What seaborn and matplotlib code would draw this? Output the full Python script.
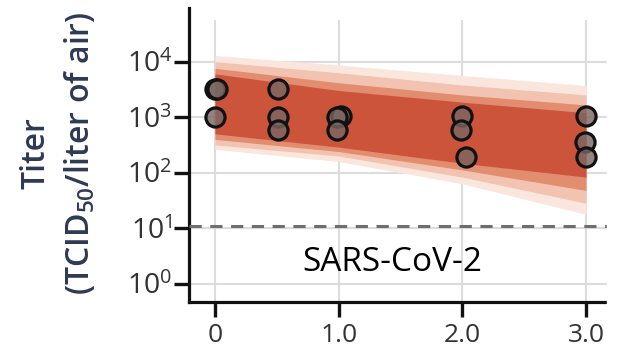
import numpy as np
import pandas as pd
import matplotlib
matplotlib.use("Agg")
import matplotlib.pyplot as plt
from matplotlib.patches import Rectangle
import seaborn as sns

# measured titers (TCID50 / liter of air) vs time (h)
hours = [0.0, 0.02, 0.0, 0.51, 0.51, 0.51, 1.02, 0.99, 0.99, 2.0, 1.99, 2.03, 3.0, 2.99, 3.0]
titer = [3200, 3200, 1000, 3200, 1000, 575, 1050, 1000, 575, 1050, 575, 190, 1050, 350, 190]

# posterior band envelopes read at t = 0, 1, 2, 3 (log10 titer), outer to inner
band_t = [0, 1, 2, 3]
band1_hi = [4.11, 3.94, 3.75, 3.57]
band1_lo = [2.42, 2.20, 1.80, 1.25]
band2_hi = [4.00, 3.80, 3.58, 3.40]
band2_lo = [2.50, 2.30, 1.92, 1.45]
band3_hi = [3.88, 3.62, 3.40, 3.22]
band3_lo = [2.60, 2.38, 2.05, 1.68]
core_hi = [3.78, 3.48, 3.27, 3.08]
core_lo = [2.70, 2.46, 2.17, 1.92]

detect_limit = 10 ** 1.04
xticks = [0, 1, 2, 3]
xticklabels = ["0", "1.0", "2.0", "3.0"]
yticks = [1, 10, 100, 1000, 10000]
yticklabels = [r"$10^{0}$", r"$10^{1}$", r"$10^{2}$", r"$10^{3}$", r"$10^{4}$"]

sns.set_style("white")
plt.rcParams["font.family"] = ["Open Sans", "DejaVu Sans"]
plt.rcParams["mathtext.fontset"] = "custom"
plt.rcParams["mathtext.rm"] = "Open Sans"
plt.rcParams["mathtext.it"] = "Open Sans"
plt.rcParams["mathtext.bf"] = "Open Sans:bold"
plt.rcParams["mathtext.default"] = "regular"

fig = plt.figure(figsize=(6.19, 3.55), dpi=100)
ax = fig.add_axes([189 / 619, 1 - 302 / 355, (607 - 189) / 619, (302 - 20) / 355])

ax.set_yscale("log")
ax.set_xlim(-0.21, 3.17)
ax.set_ylim(10 ** -0.33, 10 ** 4.75)

ax.grid(True, color="#dcdcdc", lw=1.5, zorder=0)
ax.set_axisbelow(True)

bands = [(band1_hi, band1_lo, "#fae6dc"), (band2_hi, band2_lo, "#f2c3b0"),
         (band3_hi, band3_lo, "#e28c70"), (core_hi, core_lo, "#cc543a")]
for hi, lo, col in bands:
    ax.fill_between(band_t, 10 ** np.array(lo), 10 ** np.array(hi), color=col, lw=0, zorder=2)

ax.axhline(detect_limit, color="#6e6e6e", lw=2.2, ls=(0, (4, 2.8)), zorder=3)

df = pd.DataFrame({"hours": hours, "titer": titer})
sns.scatterplot(data=df, x="hours", y="titer", s=190, color="#777777", edgecolor="#111111", linewidth=2.3, ax=ax, zorder=5)
ax.collections[-1].set_facecolor((0.47, 0.40, 0.38, 0.8))

ax.text(1.43, 10 ** 0.38, "SARS-CoV-2", fontsize=24, ha="center", va="center", color="black")

ax.set_xticks(xticks)
ax.set_xticklabels(xticklabels, fontsize=19, color="#333333")
ax.set_yticks(yticks)
ax.set_yticklabels(yticklabels, fontsize=20.5, color="#333333")
ax.minorticks_off()
ax.tick_params(axis="both", which="major", length=11, width=2.4, color="#111111", direction="out",
               bottom=True, left=True)
ax.tick_params(axis="x", pad=4)
ax.tick_params(axis="y", pad=1)
ax.set_xlabel("")
ax.set_ylabel("")

for side in ["top", "right"]:
    ax.spines[side].set_visible(False)
for side in ["left", "bottom"]:
    ax.spines[side].set_linewidth(2.3)
    ax.spines[side].set_color("#111111")
ax.spines["left"].set_bounds(10 ** -0.33, 10 ** 4.97)

fig.text(58 / 619, 1 - 153 / 355, "Titer\n(TCID$_{50}$/liter of air)", rotation=90, ha="center", va="center",
         multialignment="center", fontsize=23, fontweight="semibold", color="#2e3a55", linespacing=1.35)

fig.add_artist(Rectangle((607 / 619, 0), 1, 1, transform=fig.transFigure, color="white", zorder=20))

fig.savefig("out.png", dpi=100)
